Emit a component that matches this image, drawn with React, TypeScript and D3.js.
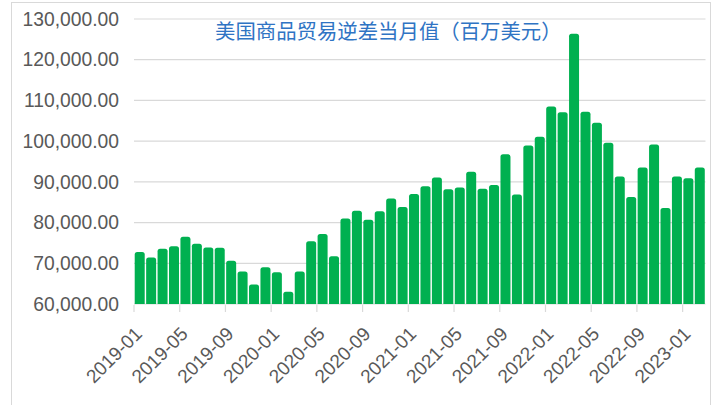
import React from "react";
import * as d3 from "d3";

const categories: string[] = [
  "2019-01","2019-02","2019-03","2019-04","2019-05","2019-06","2019-07","2019-08","2019-09","2019-10","2019-11","2019-12",
  "2020-01","2020-02","2020-03","2020-04","2020-05","2020-06","2020-07","2020-08","2020-09","2020-10","2020-11","2020-12",
  "2021-01","2021-02","2021-03","2021-04","2021-05","2021-06","2021-07","2021-08","2021-09","2021-10","2021-11","2021-12",
  "2022-01","2022-02","2022-03","2022-04","2022-05","2022-06","2022-07","2022-08","2022-09","2022-10","2022-11","2022-12",
  "2023-01","2023-02",
];

const deficitValues: number[] = [
  72800, 71400, 73600, 74200, 76500, 74800, 73900, 73800, 70600, 68000, 64800, 69000,
  67800, 63000, 68000, 75400, 77200, 71700, 81000, 82900, 80700, 82800, 85900, 83800,
  87000, 88900, 91100, 88200, 88600, 92500, 88300, 89200, 96800, 86900, 98900, 101100,
  108500, 107100, 126400, 107200, 104500, 99600, 91300, 86300, 93500, 99200, 83600, 91300,
  90900, 93500,
];

const yTicks: number[] = [60000, 70000, 80000, 90000, 100000, 110000, 120000, 130000];

const title = "美国商品贸易逆差当月值（百万美元）";

export default function App() {
  const W = 718;
  const H = 405;
  const left = 134;
  const right = 705.5;
  const top = 19;
  const bottom = 304;

  const x = d3
    .scaleBand<string>()
    .domain(categories)
    .range([left, right])
    .paddingInner(0.125)
    .paddingOuter(0.0625);
  const y = d3.scaleLinear().domain([60000, 130000]).range([bottom, top]);
  const bw = x.bandwidth();
  const step = x.step();
  const fmt = d3.format(",.2f");
  const r = 2.5;

  const barPath = (cx: number, v: number) => {
    const x0 = cx;
    const x1 = cx + bw;
    const yt = y(v);
    const yb = y(60000);
    return `M${x0},${yb}V${yt + r}Q${x0},${yt} ${x0 + r},${yt}H${x1 - r}Q${x1},${yt} ${x1},${yt + r}V${yb}Z`;
  };

  const labelIdx = categories.map((_, i) => i).filter((i) => i % 4 === 0);

  return (
    <svg
      width={W}
      height={H}
      style={{ position: "absolute", left: 0, top: 0, background: "#fff" }}
      fontFamily="'Liberation Sans', Arial, sans-serif"
    >
      <rect x={11.5} y={2.5} width={699} height={430} fill="#fff" stroke="#d9d9d9" strokeWidth={1} />
      {yTicks.map((t) => (
        <g key={t}>
          <line x1={left} x2={right} y1={y(t)} y2={y(t)} stroke="#d9d9d9" strokeWidth={1.2} />
          <text x={119} y={y(t)} dy="0.35em" textAnchor="end" fontSize={19.3} fill="#595959">
            {fmt(t)}
          </text>
        </g>
      ))}
      {categories.map((c, i) => (
        <path key={c} d={barPath(x(c)!, deficitValues[i])} fill="#00b050" />
      ))}
      {labelIdx.map((i) => {
        const bx = left + i * step;
        const cx = x(categories[i])! + bw / 2 + 3.5;
        const cy = 335;
        return (
          <g key={categories[i]}>
            <line x1={bx} x2={bx} y1={305} y2={312} stroke="#d9d9d9" strokeWidth={1.2} />
            <text
              x={cx}
              y={cy}
              textAnchor="end"
              fontSize={19}
              fill="#595959"
              transform={`rotate(-45 ${cx} ${cy})`}
            >
              {categories[i]}
            </text>
          </g>
        );
      })}
      <text
        x={215}
        y={39}
        fontSize={20.4}
        fill="#2f74c4"
        fontFamily="'Noto Sans CJK SC', sans-serif"
      >
        {title}
      </text>
    </svg>
  );
}
